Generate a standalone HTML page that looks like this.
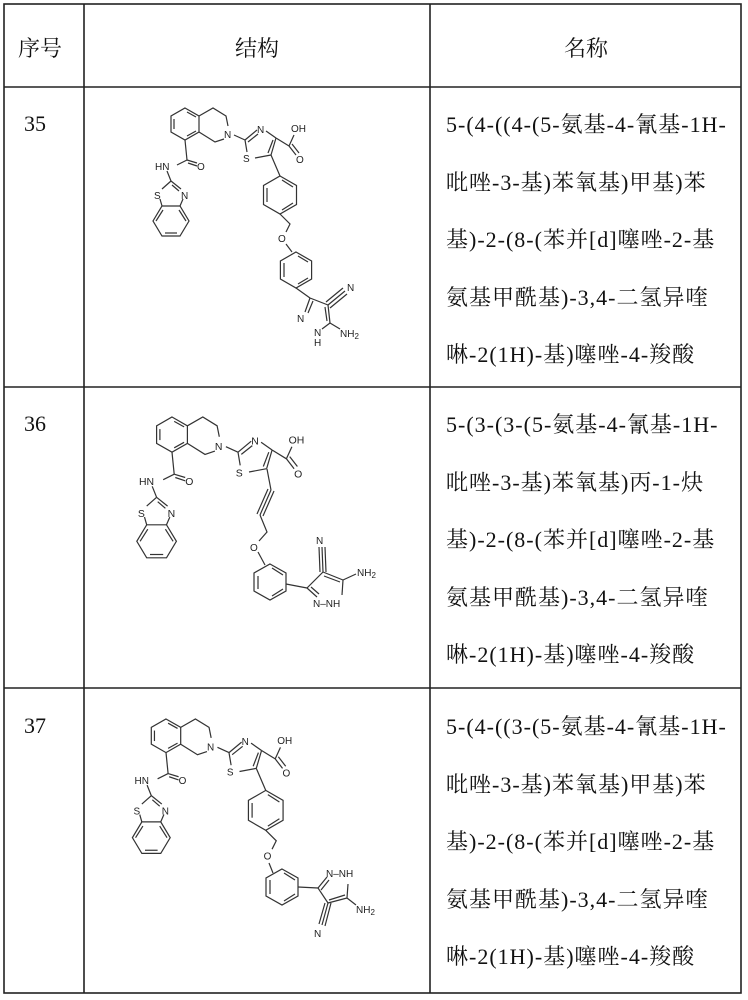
<!DOCTYPE html>
<html><head><meta charset="utf-8"><style>
html,body{margin:0;padding:0;background:#fff;}
body{width:748px;height:1000px;position:relative;overflow:hidden;}
.t{position:absolute;font-family:"Liberation Serif","Noto Serif CJK SC",serif;color:#111;font-size:22px;}
.n{position:absolute;left:446px;font-family:"Liberation Serif","Noto Serif CJK SC",serif;color:#111;font-size:22px;letter-spacing:1px;line-height:57.5px;white-space:pre;}
svg{position:absolute;left:0;top:0;}
</style></head><body>
<svg width="748" height="1000" viewBox="0 0 748 1000">
<g stroke="#222" stroke-width="1.6" fill="none">
<rect x="4" y="4" width="737" height="989"/>
<line x1="84" y1="4" x2="84" y2="993"/>
<line x1="430" y1="4" x2="430" y2="993"/>
<line x1="4" y1="87" x2="741" y2="87"/>
<line x1="4" y1="387" x2="741" y2="387"/>
<line x1="4" y1="688" x2="741" y2="688"/>
</g>

<!-- ROW 35 -->
<g stroke="#333" stroke-width="1.2" fill="none" font-family="Liberation Sans, sans-serif" font-size="10">
<polygon points="185,108 199,116 199,132 185,140 171,132 171,116"/>
<line x1="174" y1="119" x2="174" y2="129"/><line x1="187" y1="112" x2="196" y2="117"/><line x1="187" y1="136" x2="196" y2="131"/>
<polyline points="199,116 213,108 226,116 228,126"/>
<polyline points="224,139 215,142 199,132"/>
<line x1="234" y1="135" x2="245" y2="140"/>
<line x1="245" y1="140" x2="257" y2="130"/><line x1="248" y1="142" x2="258" y2="134"/>
<line x1="266" y1="131" x2="276" y2="138"/>
<line x1="276" y1="138" x2="271" y2="155"/><line x1="273" y1="140" x2="268" y2="153"/>
<line x1="271" y1="155" x2="255" y2="158"/>
<line x1="247" y1="152" x2="245" y2="140"/>
<line x1="276" y1="138" x2="289" y2="146"/>
<line x1="289" y1="146" x2="294" y2="135"/>
<line x1="289" y1="146" x2="296" y2="155"/><line x1="292" y1="144" x2="299" y2="153"/>
<line x1="185" y1="140" x2="187" y2="160"/>
<line x1="187" y1="160" x2="197" y2="163"/><line x1="188" y1="163" x2="197" y2="166"/>
<line x1="187" y1="160" x2="177" y2="165"/>
<line x1="167" y1="171" x2="171" y2="181"/>
<line x1="171" y1="181" x2="162" y2="189"/>
<line x1="171" y1="181" x2="181" y2="189"/><line x1="172" y1="185" x2="179" y2="191"/>
<line x1="160" y1="199" x2="162" y2="206"/><line x1="183" y1="199" x2="180" y2="206"/>
<polygon points="162,206 180,206 189,221 180,236 162,236 153,221"/>
<line x1="165" y1="233" x2="177" y2="233"/><line x1="156" y1="221" x2="163" y2="210"/><line x1="186" y1="221" x2="179" y2="210"/>
<line x1="271" y1="155" x2="280" y2="176"/>
<polygon points="280,176 296.5,185.5 296.5,204.5 280,214 263.5,204.5 263.5,185.5"/>
<line x1="282" y1="180" x2="293" y2="187"/><line x1="267" y1="188" x2="267" y2="202"/><line x1="282" y1="210" x2="293" y2="203"/>
<polyline points="280,214 290,224 286,232"/>
<line x1="286" y1="244" x2="292" y2="252"/>
<polygon points="296,252 311.6,261 311.6,279 296,288 280.4,279 280.4,261"/>
<line x1="298" y1="256" x2="308" y2="262"/><line x1="284" y1="263" x2="284" y2="277"/><line x1="298" y1="284" x2="308" y2="278"/>
<line x1="296" y1="288" x2="310" y2="298"/>
<line x1="310" y1="298" x2="328" y2="305"/>
<line x1="328" y1="305" x2="330" y2="323"/><line x1="325" y1="307" x2="327" y2="321"/>
<line x1="330" y1="323" x2="322" y2="329"/>
<line x1="310" y1="298" x2="305" y2="312"/><line x1="313" y1="301" x2="308" y2="313"/>
<line x1="328" y1="305" x2="345" y2="291"/><line x1="326" y1="302" x2="343" y2="288"/><line x1="330" y1="308" x2="347" y2="294"/>
<line x1="330" y1="323" x2="340" y2="329"/>
<g stroke="none" fill="#222">
<text x="224" y="138">N</text><text x="257" y="133">N</text><text x="243" y="162">S</text>
<text x="291" y="132">OH</text><text x="296" y="163">O</text><text x="197" y="170">O</text>
<text x="155" y="170">HN</text><text x="154" y="199">S</text><text x="181" y="199">N</text>
<text x="278" y="242">O</text>
<text x="347" y="291">N</text>
<text x="297" y="322">N</text>
<text x="314" y="336">N</text><text x="314" y="346">H</text>
<text x="340" y="337">NH<tspan font-size="8" dy="2">2</tspan></text>
</g>
</g>

<!-- ROW 36 upper -->
<g transform="translate(172,417) scale(1.1) translate(-185,-108)">
<g stroke="#333" stroke-width="1.1" fill="none" font-family="Liberation Sans, sans-serif" font-size="9.5">
<polygon points="185,108 199,116 199,132 185,140 171,132 171,116"/>
<line x1="174" y1="119" x2="174" y2="129"/><line x1="187" y1="112" x2="196" y2="117"/><line x1="187" y1="136" x2="196" y2="131"/>
<polyline points="199,116 213,108 226,116 228,126"/>
<polyline points="224,139 215,142 199,132"/>
<line x1="234" y1="135" x2="245" y2="140"/>
<line x1="245" y1="140" x2="257" y2="130"/><line x1="248" y1="142" x2="258" y2="134"/>
<line x1="266" y1="131" x2="276" y2="138"/>
<line x1="276" y1="138" x2="271" y2="155"/><line x1="273" y1="140" x2="268" y2="153"/>
<line x1="271" y1="155" x2="255" y2="158"/>
<line x1="247" y1="152" x2="245" y2="140"/>
<line x1="276" y1="138" x2="289" y2="146"/>
<line x1="289" y1="146" x2="294" y2="135"/>
<line x1="289" y1="146" x2="296" y2="155"/><line x1="292" y1="144" x2="299" y2="153"/>
<line x1="185" y1="140" x2="187" y2="160"/>
<line x1="187" y1="160" x2="197" y2="163"/><line x1="188" y1="163" x2="197" y2="166"/>
<line x1="187" y1="160" x2="177" y2="165"/>
<line x1="167" y1="171" x2="171" y2="181"/>
<line x1="171" y1="181" x2="162" y2="189"/>
<line x1="171" y1="181" x2="181" y2="189"/><line x1="172" y1="185" x2="179" y2="191"/>
<line x1="160" y1="199" x2="162" y2="206"/><line x1="183" y1="199" x2="180" y2="206"/>
<polygon points="162,206 180,206 189,221 180,236 162,236 153,221"/>
<line x1="165" y1="233" x2="177" y2="233"/><line x1="156" y1="221" x2="163" y2="210"/><line x1="186" y1="221" x2="179" y2="210"/>
<g stroke="none" fill="#222">
<text x="224" y="138">N</text><text x="257" y="133">N</text><text x="243" y="162">S</text>
<text x="291" y="132">OH</text><text x="296" y="163">O</text><text x="197" y="170">O</text>
<text x="155" y="170">HN</text><text x="154" y="199">S</text><text x="181" y="199">N</text>
</g>
</g>
</g>
<!-- ROW 36 lower -->
<g stroke="#333" stroke-width="1.2" fill="none" font-family="Liberation Sans, sans-serif" font-size="10">
<line x1="267" y1="469" x2="271" y2="490"/>
<line x1="271" y1="490" x2="260" y2="515"/><line x1="274" y1="491" x2="263" y2="516"/><line x1="268" y1="489" x2="257" y2="514"/>
<polyline points="260,515 267,532 259,541"/>
<line x1="258" y1="552" x2="265" y2="565"/>
<polygon points="270,564 286,573 286,591 270,600 254,591 254,573"/>
<line x1="272" y1="568" x2="283" y2="575"/><line x1="258" y1="576" x2="258" y2="589"/><line x1="272" y1="596" x2="283" y2="589"/>
<line x1="286" y1="584" x2="307" y2="588"/>
<line x1="307" y1="588" x2="323" y2="572"/>
<line x1="323" y1="572" x2="343" y2="580"/><line x1="324" y1="576" x2="340" y2="582"/>
<line x1="343" y1="580" x2="342" y2="595"/>
<line x1="307" y1="588" x2="317" y2="597"/><line x1="311" y1="587" x2="319" y2="594"/>
<line x1="323" y1="572" x2="322" y2="547"/><line x1="320" y1="572" x2="319" y2="547"/><line x1="326" y1="572" x2="325" y2="547"/>
<line x1="343" y1="580" x2="356" y2="574"/>
<g stroke="none" fill="#222">
<text x="250" y="551">O</text>
<text x="316" y="544">N</text>
<text x="357" y="576">NH<tspan font-size="8" dy="2">2</tspan></text>
<text x="313" y="607">N–NH</text>
</g>
</g>

<!-- ROW 37 upper -->
<g transform="translate(166,719) scale(1.05) translate(-185,-108)">
<g stroke="#333" stroke-width="1.15" fill="none" font-family="Liberation Sans, sans-serif" font-size="9.5">
<polygon points="185,108 199,116 199,132 185,140 171,132 171,116"/>
<line x1="174" y1="119" x2="174" y2="129"/><line x1="187" y1="112" x2="196" y2="117"/><line x1="187" y1="136" x2="196" y2="131"/>
<polyline points="199,116 213,108 226,116 228,126"/>
<polyline points="224,139 215,142 199,132"/>
<line x1="234" y1="135" x2="245" y2="140"/>
<line x1="245" y1="140" x2="257" y2="130"/><line x1="248" y1="142" x2="258" y2="134"/>
<line x1="266" y1="131" x2="276" y2="138"/>
<line x1="276" y1="138" x2="271" y2="155"/><line x1="273" y1="140" x2="268" y2="153"/>
<line x1="271" y1="155" x2="255" y2="158"/>
<line x1="247" y1="152" x2="245" y2="140"/>
<line x1="276" y1="138" x2="289" y2="146"/>
<line x1="289" y1="146" x2="294" y2="135"/>
<line x1="289" y1="146" x2="296" y2="155"/><line x1="292" y1="144" x2="299" y2="153"/>
<line x1="185" y1="140" x2="187" y2="160"/>
<line x1="187" y1="160" x2="197" y2="163"/><line x1="188" y1="163" x2="197" y2="166"/>
<line x1="187" y1="160" x2="177" y2="165"/>
<line x1="167" y1="171" x2="171" y2="181"/>
<line x1="171" y1="181" x2="162" y2="189"/>
<line x1="171" y1="181" x2="181" y2="189"/><line x1="172" y1="185" x2="179" y2="191"/>
<line x1="160" y1="199" x2="162" y2="206"/><line x1="183" y1="199" x2="180" y2="206"/>
<polygon points="162,206 180,206 189,221 180,236 162,236 153,221"/>
<line x1="165" y1="233" x2="177" y2="233"/><line x1="156" y1="221" x2="163" y2="210"/><line x1="186" y1="221" x2="179" y2="210"/>
<line x1="271" y1="155" x2="280" y2="176"/>
<polygon points="280,176 296.5,185.5 296.5,204.5 280,214 263.5,204.5 263.5,185.5"/>
<line x1="282" y1="180" x2="293" y2="187"/><line x1="267" y1="188" x2="267" y2="202"/><line x1="282" y1="210" x2="293" y2="203"/>
<polyline points="280,214 290,224 286,232"/>
<g stroke="none" fill="#222">
<text x="224" y="138">N</text><text x="257" y="133">N</text><text x="243" y="162">S</text>
<text x="291" y="132">OH</text><text x="296" y="163">O</text><text x="197" y="170">O</text>
<text x="155" y="170">HN</text><text x="154" y="199">S</text><text x="181" y="199">N</text>
<text x="278" y="242">O</text>
</g>
</g>
</g>
<!-- ROW 37 lower -->
<g stroke="#333" stroke-width="1.2" fill="none" font-family="Liberation Sans, sans-serif" font-size="10">
<line x1="269" y1="863" x2="273" y2="873"/>
<polygon points="282,869 298,878 298,896 282,905 266,896 266,878"/>
<line x1="284" y1="873" x2="295" y2="880"/><line x1="270" y1="880" x2="270" y2="894"/><line x1="284" y1="901" x2="295" y2="894"/>
<line x1="298" y1="887" x2="318" y2="888"/>
<line x1="318" y1="888" x2="327" y2="877"/><line x1="321" y1="890" x2="329" y2="880"/>
<line x1="318" y1="888" x2="328" y2="903"/>
<line x1="328" y1="903" x2="347" y2="898"/><line x1="329" y1="900" x2="345" y2="895"/>
<line x1="347" y1="898" x2="348" y2="884"/>
<line x1="328" y1="903" x2="322" y2="925"/><line x1="325" y1="903" x2="319" y2="924"/><line x1="331" y1="903" x2="325" y2="926"/>
<line x1="347" y1="898" x2="356" y2="905"/>
<g stroke="none" fill="#222">
<text x="326" y="877">N–NH</text>
<text x="356" y="913">NH<tspan font-size="8" dy="2">2</tspan></text>
<text x="314" y="937">N</text>
</g>
</g>
</svg>
<div class="t" style="left:18px;top:32px;">序号</div>
<div class="t" style="left:235px;top:32px;">结构</div>
<div class="t" style="left:564px;top:32px;">名称</div>
<div class="t" style="left:24px;top:111px;">35</div>
<div class="t" style="left:24px;top:411px;">36</div>
<div class="t" style="left:24px;top:713px;">37</div>
<div class="n" style="top:96px;">5-(4-((4-(5-氨基-4-氰基-1H-
吡唑-3-基)苯氧基)甲基)苯
基)-2-(8-(苯并[d]噻唑-2-基
氨基甲酰基)-3,4-二氢异喹
啉-2(1H)-基)噻唑-4-羧酸</div>
<div class="n" style="top:396px;">5-(3-(3-(5-氨基-4-氰基-1H-
吡唑-3-基)苯氧基)丙-1-炔
基)-2-(8-(苯并[d]噻唑-2-基
氨基甲酰基)-3,4-二氢异喹
啉-2(1H)-基)噻唑-4-羧酸</div>
<div class="n" style="top:698px;">5-(4-((3-(5-氨基-4-氰基-1H-
吡唑-3-基)苯氧基)甲基)苯
基)-2-(8-(苯并[d]噻唑-2-基
氨基甲酰基)-3,4-二氢异喹
啉-2(1H)-基)噻唑-4-羧酸</div>
</body></html>
